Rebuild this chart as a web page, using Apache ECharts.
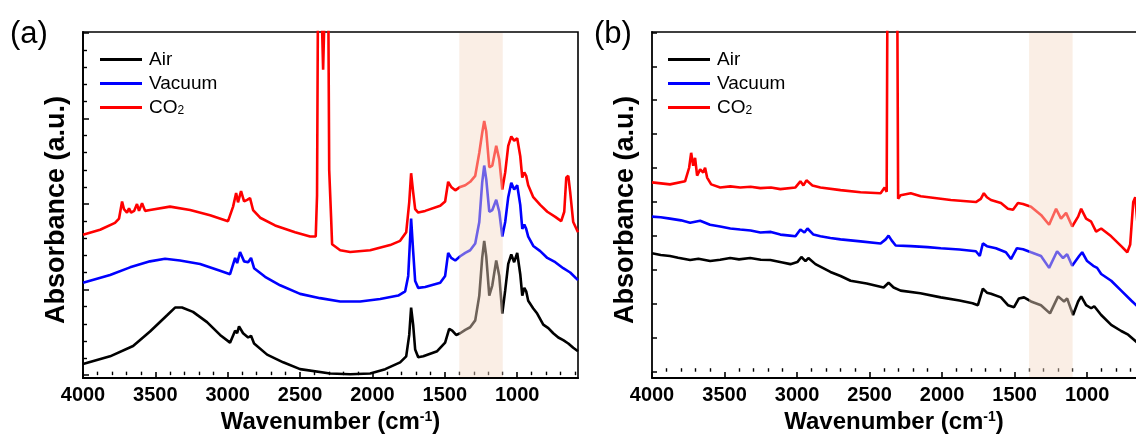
<!DOCTYPE html>
<html>
<head>
<meta charset="utf-8">
<script src="https://cdn.jsdelivr.net/npm/echarts@6/dist/echarts.min.js"></script>
<style>
  html, body { margin: 0; padding: 0; background: #fff; }
  #chart { width: 1136px; height: 439px; }
</style>
</head>
<body>
<div id="chart"></div>
<script>
// ---------- FTIR spectra, panel (a) ----------
const airA_wn  = [4000,3813,3654,3537,3419,3364,3316,3240,3143,3053,2984,2949,2935,2922,2894,2859,2839,2818,2728,2617,2500,2292,2154,2016,1912,1809,1767,1746,1733,1719,1705,1684,1649,1553,1498,1470,1449,1422,1394,1359,1325,1290,1262,1242,1228,1214,1193,1172,1145,1124,1103,1083,1062,1041,1021,1000,979,965,951,938,924,889,862,820,785,751,716,682,647,613,580];
const airA_abs = [0.13,0.22,0.34,0.51,0.70,0.79,0.79,0.74,0.62,0.47,0.38,0.52,0.49,0.57,0.49,0.44,0.46,0.37,0.24,0.15,0.07,0.02,0.01,0.02,0.07,0.15,0.22,0.47,0.79,0.59,0.30,0.21,0.22,0.28,0.38,0.54,0.52,0.47,0.49,0.53,0.56,0.64,0.93,1.37,1.57,1.39,0.93,1.05,1.34,1.16,0.72,0.99,1.30,1.41,1.32,1.43,1.18,0.93,1.02,0.98,0.87,0.78,0.72,0.59,0.55,0.49,0.44,0.41,0.37,0.32,0.28];

const vacA_wn  = [4000,3813,3675,3537,3433,3330,3191,3053,2984,2949,2935,2915,2887,2859,2839,2818,2742,2638,2500,2362,2223,2085,1947,1822,1774,1753,1733,1719,1705,1684,1636,1532,1498,1477,1456,1428,1394,1359,1325,1290,1262,1242,1228,1214,1193,1172,1145,1124,1103,1083,1062,1041,1021,1000,979,965,951,938,924,889,841,792,737,682,634,580];
const vacA_abs = [1.08,1.17,1.26,1.33,1.36,1.34,1.30,1.22,1.18,1.37,1.31,1.44,1.33,1.32,1.37,1.25,1.15,1.05,0.95,0.90,0.86,0.86,0.89,0.93,0.98,1.16,1.83,1.45,1.10,1.02,1.03,1.08,1.16,1.43,1.37,1.34,1.39,1.43,1.46,1.54,1.79,2.25,2.45,2.29,1.91,1.93,2.05,1.91,1.62,1.79,2.08,2.25,2.17,2.22,1.99,1.71,1.76,1.71,1.62,1.51,1.45,1.37,1.32,1.25,1.20,1.11];

const co2A_wn  = [4000,3882,3779,3751,3730,3717,3696,3682,3668,3647,3627,3613,3592,3571,3537,3399,3260,3122,2998,2963,2942,2929,2908,2887,2866,2846,2825,2776,2673,2535,2431,2392,2383,2376,2362,2341,2320,2306,2299,2286,2279,2223,2154,2016,1878,1809,1767,1746,1733,1719,1705,1684,1636,1532,1498,1477,1456,1428,1394,1359,1325,1290,1262,1242,1228,1214,1193,1172,1145,1124,1103,1083,1062,1041,1021,1000,979,965,951,938,924,889,841,792,737,696,675,661,647,634,613,580];
const co2A_abs = [1.64,1.70,1.78,1.83,2.03,1.94,1.90,1.95,1.90,1.92,2.00,1.92,2.01,1.92,1.93,1.97,1.93,1.87,1.80,1.97,2.13,2.02,2.15,2.03,2.05,2.07,1.93,1.84,1.75,1.67,1.62,1.62,2.10,4.60,5.00,3.57,5.00,4.60,2.40,1.85,1.53,1.46,1.44,1.46,1.52,1.57,1.67,2.02,2.36,2.14,1.94,1.90,1.92,1.98,2.03,2.26,2.20,2.16,2.20,2.22,2.26,2.33,2.60,2.83,2.97,2.85,2.43,2.45,2.68,2.52,2.17,2.37,2.68,2.79,2.74,2.77,2.56,2.31,2.37,2.33,2.22,2.08,1.99,1.91,1.85,1.80,1.91,2.31,2.33,2.14,1.79,1.67];

// ---------- FTIR spectra, panel (b) ----------
const airB_wn  = [4000,3940,3876,3820,3737,3680,3599,3530,3461,3400,3323,3250,3184,3100,3046,2998,2970,2942,2922,2873,2770,2700,2631,2520,2403,2369,2334,2286,2150,2009,1880,1790,1753,1719,1691,1663,1594,1546,1504,1470,1435,1387,1318,1256,1200,1159,1138,1097,1062,1041,1007,972,951,903,834,765,717,654,580];
const airB_abs = [3.49,3.44,3.41,3.36,3.29,3.33,3.26,3.30,3.35,3.31,3.35,3.30,3.29,3.22,3.17,3.23,3.38,3.26,3.35,3.17,2.94,2.82,2.68,2.60,2.48,2.62,2.48,2.39,2.31,2.19,2.10,2.02,1.96,2.45,2.33,2.30,2.19,1.96,1.90,2.16,2.19,2.07,1.96,1.72,2.22,2.07,2.16,1.67,2.07,2.22,1.96,1.87,1.93,1.67,1.38,1.20,1.09,0.86,0.65];

const vacB_wn  = [4000,3940,3876,3800,3737,3668,3600,3530,3460,3392,3320,3253,3180,3115,3050,3011,2977,2949,2928,2887,2839,2770,2700,2562,2424,2389,2369,2348,2320,2216,2100,2009,1880,1767,1740,1719,1691,1629,1560,1525,1484,1442,1387,1318,1262,1207,1166,1138,1103,1055,1034,1000,958,931,903,834,765,696,654,580];
const vacB_abs = [4.57,4.55,4.51,4.46,4.39,4.45,4.33,4.28,4.22,4.19,4.16,4.10,4.12,4.04,4.01,3.99,4.19,4.10,4.22,4.04,3.99,3.94,3.90,3.84,3.78,3.90,4.01,3.87,3.72,3.70,3.67,3.64,3.60,3.55,3.41,3.78,3.70,3.64,3.52,3.32,3.64,3.61,3.52,3.41,3.06,3.55,3.35,3.46,3.12,3.41,3.52,3.26,3.12,3.06,2.88,2.68,2.39,2.10,1.93,1.72];

const co2B_wn  = [4000,3876,3772,3744,3730,3716,3703,3689,3668,3647,3634,3620,3592,3530,3460,3392,3320,3253,3180,3115,3011,2977,2956,2935,2894,2839,2700,2562,2424,2396,2382,2376,2310,2303,2286,2216,2147,1940,1767,1733,1712,1691,1663,1594,1546,1511,1477,1442,1387,1318,1262,1214,1180,1145,1103,1062,1041,1007,972,938,903,834,765,723,703,682,668,654,627,580];
const co2B_abs = [5.58,5.52,5.61,6.01,6.45,6.07,6.30,5.78,5.96,5.87,6.01,5.72,5.52,5.43,5.46,5.43,5.45,5.41,5.43,5.38,5.43,5.61,5.49,5.64,5.49,5.43,5.35,5.29,5.26,5.43,5.30,12.0,12.0,5.10,5.20,5.26,5.17,5.06,5.00,5.09,5.26,5.14,5.06,4.97,4.80,4.77,4.97,4.94,4.86,4.62,4.33,4.80,4.51,4.68,4.28,4.57,4.80,4.51,4.42,4.13,4.22,3.99,3.70,3.52,3.75,5.00,5.14,4.42,4.00,3.70];

// axis ticks
const xMajorTicks = [4000, 3500, 3000, 2500, 2000, 1500, 1000];
const xMinorTicks = [3900,3800,3700,3600,3400,3300,3200,3100,2900,2800,2700,2600,2400,2300,2200,2100,1900,1800,1700,1600,1400,1300,1200,1100,900,800,700,600];
const yMajorTicksA = [0, 1, 2, 3, 4];
const yMinorTicksA = [0.2,0.4,0.6,0.8,1.2,1.4,1.6,1.8,2.2,2.4,2.6,2.8,3.2,3.4,3.6,3.8];
const yTicksB = [0,1,2,3,4,5,6,7,8,9,10];

// wavenumber windows shown in each panel (panel b runs off the right edge)
const xRangeA = [580, 4000];
const xRangeB = [663, 4000];

// highlighted region (cm-1)
const bandRange = [1400, 1100];

const seriesNames = ['Air', 'Vacuum', 'CO2'];
const seriesColors = ['#000000', '#0000ff', '#ff0000'];

const FONT = '"Liberation Sans", Arial, sans-serif';

function pairs(xs, ys) { return xs.map((x, i) => [x, ys[i]]); }

function xAxesFor(grid, range, withTopLine) {
  const axes = [
    {
      gridIndex: grid, type: 'value', inverse: true, min: range[0], max: range[1], position: 'bottom',
      axisLine: { onZero: false, lineStyle: { color: '#000', width: 1.8 } },
      axisTick: { inside: true, length: 6, customValues: xMajorTicks, lineStyle: { color: '#000', width: 1.6 } },
      axisLabel: {
        customValues: xMajorTicks, formatter: function (v) { return String(v); },
        fontFamily: FONT, fontWeight: 'bold', fontSize: 20, color: '#000', margin: 7
      },
      splitLine: { show: false },
      name: 'Wavenumber (cm{sup|-1})', nameLocation: 'middle', nameGap: 30,
      nameTextStyle: {
        fontFamily: FONT, fontWeight: 'bold', fontSize: 24, color: '#000',
        rich: { sup: { fontFamily: FONT, fontWeight: 'bold', fontSize: 14, color: '#000', verticalAlign: 'top', padding: [0, 0, 10, 0] } }
      }
    },
    {
      gridIndex: grid, type: 'value', inverse: true, min: range[0], max: range[1], position: 'bottom',
      axisLine: { show: false },
      axisTick: { inside: true, length: 3.5, customValues: xMinorTicks, lineStyle: { color: '#000', width: 1.4 } },
      axisLabel: { show: false }, splitLine: { show: false }
    }
  ];
  if (withTopLine) {
    axes.push({
      gridIndex: grid, type: 'value', inverse: true, min: range[0], max: range[1], position: 'top',
      axisLine: { onZero: false, lineStyle: { color: '#000', width: 1.6 } },
      axisTick: { show: false }, axisLabel: { show: false }, splitLine: { show: false }
    });
  }
  return axes;
}

function yName() {
  return {
    name: 'Absorbance (a.u.)', nameLocation: 'middle', nameGap: 13,
    nameTextStyle: { fontFamily: FONT, fontWeight: 'bold', fontSize: 27, color: '#000', padding: [0, 10, 0, 0] }
  };
}

const yAxes = [
  Object.assign({
    gridIndex: 0, type: 'value', min: -0.0345, max: 4.011, position: 'left',
    axisLine: { lineStyle: { color: '#000', width: 1.8 } },
    axisTick: { inside: true, length: 6, customValues: yMajorTicksA, lineStyle: { color: '#000', width: 1.5 } },
    axisLabel: { show: false }, splitLine: { show: false }
  }, yName()),
  {
    gridIndex: 0, type: 'value', min: -0.0345, max: 4.011, position: 'left',
    axisLine: { show: false },
    axisTick: { inside: true, length: 4, customValues: yMinorTicksA, lineStyle: { color: '#000', width: 1.4 } },
    axisLabel: { show: false }, splitLine: { show: false }
  },
  Object.assign({
    gridIndex: 1, type: 'value', min: -0.188, max: 10.01, position: 'left',
    axisLine: { lineStyle: { color: '#000', width: 1.8 } },
    axisTick: { inside: true, length: 5, customValues: yTicksB, lineStyle: { color: '#000', width: 1.5 } },
    axisLabel: { show: false }, splitLine: { show: false }
  }, yName())
];

const panelData = [
  [pairs(airA_wn, airA_abs), pairs(vacA_wn, vacA_abs), pairs(co2A_wn, co2A_abs)],
  [pairs(airB_wn, airB_abs), pairs(vacB_wn, vacB_abs), pairs(co2B_wn, co2B_abs)]
];
const xIndexOf = [0, 2];
const yIndexOf = [0, 2];

const series = [];
panelData.forEach((sets, p) => {
  sets.forEach((d, i) => {
    series.push({
      type: 'line', name: seriesNames[i], data: d,
      xAxisIndex: xIndexOf[p], yAxisIndex: yIndexOf[p],
      symbol: 'none', showSymbol: false, color: seriesColors[i],
      lineStyle: { width: 2.6, color: seriesColors[i] },
      z: 2, silent: true
    });
  });
  // translucent band laid over the spectra
  series.push({
    type: 'custom', name: 'band', xAxisIndex: xIndexOf[p], yAxisIndex: yIndexOf[p],
    data: [bandRange], z: 10, silent: true,
    renderItem: function (params, api) {
      const cs = params.coordSys;
      const x1 = api.coord([api.value(0), 0])[0];
      const x2 = api.coord([api.value(1), 0])[0];
      return {
        type: 'rect',
        shape: { x: Math.min(x1, x2), y: cs.y + 1, width: Math.abs(x2 - x1), height: cs.height - 2 },
        style: { fill: 'rgba(244,217,197,0.45)' }
      };
    }
  });
});

function legendAt(left) {
  return {
    orient: 'vertical', left: left, top: 50, padding: 0, data: seriesNames,
    icon: 'rect', itemWidth: 42, itemHeight: 3, itemGap: 5, selectedMode: false,
    textStyle: {
      fontFamily: FONT, fontSize: 19, color: '#000', lineHeight: 19, padding: [0, 0, 0, 2],
      rich: { sub: { fontFamily: FONT, fontSize: 12, color: '#000', verticalAlign: 'bottom', padding: [9, 0, 0, 0] } }
    },
    formatter: function (name) { return name === 'CO2' ? 'CO{sub|2}' : name; }
  };
}

const chart = echarts.init(document.getElementById('chart'), null, { renderer: 'canvas' });
chart.setOption({
  animation: false,
  backgroundColor: '#ffffff',
  grid: [
    { left: 83, top: 32, width: 495, height: 352, show: true, borderColor: '#000', borderWidth: 1.6, backgroundColor: 'transparent' },
    { left: 652, top: 32, right: 0, height: 352, show: false }
  ],
  xAxis: xAxesFor(0, xRangeA, false).concat(xAxesFor(1, xRangeB, true)),
  yAxis: yAxes,
  legend: [legendAt(100), legendAt(668)],
  graphic: [
    { type: 'text', left: 10, top: 19, style: { text: '(a)', fontFamily: FONT, fontSize: 31, fill: '#000' } },
    { type: 'text', left: 594, top: 19, style: { text: '(b)', fontFamily: FONT, fontSize: 31, fill: '#000' } }
  ],
  series: series
});
</script>
</body>
</html>
